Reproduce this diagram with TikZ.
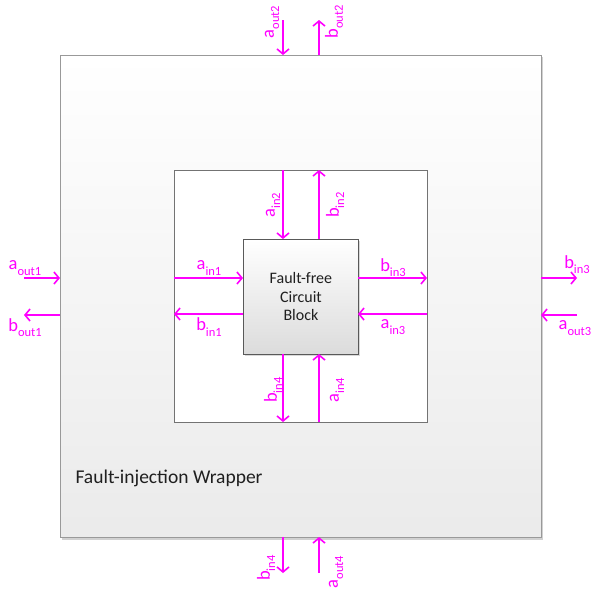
\documentclass[tikz,border=0pt]{standalone}
\usepackage{fontspec}
\setmainfont{Carlito}
\usetikzlibrary{arrows.meta}
\definecolor{mag}{HTML}{FF00FF}
\definecolor{edgegray}{HTML}{999999}
\newcommand{\sig}[2]{{\fontsize{18.5}{18.5}\selectfont #1\raisebox{-0.28em}{\fontsize{12.5}{12.5}\selectfont #2}}}
\tikzset{
  sigarrow/.style={draw=mag, line width=1.8pt, -{Straight Barb[length=5pt,width=12pt,line width=1.6pt]}},
  siglbl/.style={text=mag, inner sep=0pt},
  vlbl/.style={text=mag, inner sep=0pt, rotate=90},
}
\begin{document}
\begin{tikzpicture}[x=1pt,y=-1pt]
\useasboundingbox (0,0) rectangle (592,595);
% outer wrapper with shadow
\fill[black!18] (62,57) rectangle (543,540);
\node[draw=edgegray, line width=1pt, top color=white, bottom color=black!8, minimum width=481pt, minimum height=482pt, inner sep=0pt, anchor=north west] (outr) at (60,55) {};
% inner box
\node[draw=black!55, line width=0.9pt, fill=white, minimum width=253pt, minimum height=252pt, inner sep=0pt, anchor=north west] (inr) at (174,170) {};
% block with shadow
\fill[black!15] (245,241) rectangle (360,356);
\node[draw=black!65, line width=0.9pt, top color=white, bottom color=black!14, minimum width=115pt, minimum height=115pt, inner sep=0pt, anchor=north west] (blk) at (243,239) {};
\node[align=center, font=\fontsize{16}{18.5}\selectfont, text=black!88] (blktxt) at (blk.center) {Fault-free\\Circuit\\Block};
\node[anchor=west, font=\fontsize{19.5}{20}\selectfont, text=black!88] (wraptxt) at (72,478) {Fault-injection Wrapper};

% coordinates on edges
\coordinate (oL1) at (60,278); \coordinate (oL2) at (60,315);
\coordinate (xL1) at (24,278); \coordinate (xL2) at (24,315);
\coordinate (oR1) at (541,278); \coordinate (oR2) at (541,315);
\coordinate (xR1) at (577,278); \coordinate (xR2) at (577,315);
\coordinate (oT1) at (283,55); \coordinate (oT2) at (319,55);
\coordinate (xT1) at (283,20); \coordinate (xT2) at (319,20);
\coordinate (oB1) at (283,537); \coordinate (oB2) at (319,537);
\coordinate (xB1) at (283,573); \coordinate (xB2) at (319,573);

\coordinate (iL1) at (174,278); \coordinate (iL2) at (174,314);
\coordinate (bL1) at (243,278); \coordinate (bL2) at (243,314);
\coordinate (iR1) at (427,278); \coordinate (iR2) at (427,314);
\coordinate (bR1) at (358,278); \coordinate (bR2) at (358,314);
\coordinate (iT1) at (283,170); \coordinate (iT2) at (319,170);
\coordinate (bT1) at (283,239); \coordinate (bT2) at (319,239);
\coordinate (iB1) at (283,422); \coordinate (iB2) at (319,422);
\coordinate (bB1) at (283,354); \coordinate (bB2) at (319,354);

% outer arrows
\draw[sigarrow] (xL1) -- (oL1);
\draw[sigarrow] (oL2) -- (xL2);
\draw[sigarrow] (oR1) -- (xR1);
\draw[sigarrow] (xR2) -- (oR2);
\draw[sigarrow] (xT1) -- (oT1);
\draw[sigarrow] (oT2) -- (xT2);
\draw[sigarrow] (oB1) -- (xB1);
\draw[sigarrow] (xB2) -- (oB2);
% inner arrows
\draw[sigarrow] (iL1) -- (bL1);
\draw[sigarrow] (bL2) -- (iL2);
\draw[sigarrow] (bR1) -- (iR1);
\draw[sigarrow] (iR2) -- (bR2);
\draw[sigarrow] (iT1) -- (bT1);
\draw[sigarrow] (bT2) -- (iT2);
\draw[sigarrow] (bB1) -- (iB1);
\draw[sigarrow] (iB2) -- (bB2);

% outer labels
\node[siglbl] (l1) at (25,268) {\sig{a}{out1}};
\node[siglbl] (l2) at (25,328) {\sig{b}{out1}};
\node[siglbl] (l3) at (577,265) {\sig{b}{in3}};
\node[siglbl] (l4) at (575,328) {\sig{a}{out3}};
\node[vlbl] (l5) at (272,22) {\sig{a}{out2}};
\node[vlbl] (l6) at (334,22) {\sig{b}{out2}};
\node[vlbl] (l7) at (266,568) {\sig{b}{in4}};
\node[vlbl] (l8) at (336,572) {\sig{a}{out4}};
% inner labels
\node[siglbl] (m1) at (209,268) {\sig{a}{in1}};
\node[siglbl] (m2) at (209,327) {\sig{b}{in1}};
\node[siglbl] (m3) at (393,268) {\sig{b}{in3}};
\node[siglbl] (m4) at (393,327) {\sig{a}{in3}};
\node[vlbl] (m5) at (273,205) {\sig{a}{in2}};
\node[vlbl] (m6) at (335,205) {\sig{b}{in2}};
\node[vlbl] (m7) at (273,390) {\sig{b}{in4}};
\node[vlbl] (m8) at (337,390) {\sig{a}{in4}};
\end{tikzpicture}
\end{document}
